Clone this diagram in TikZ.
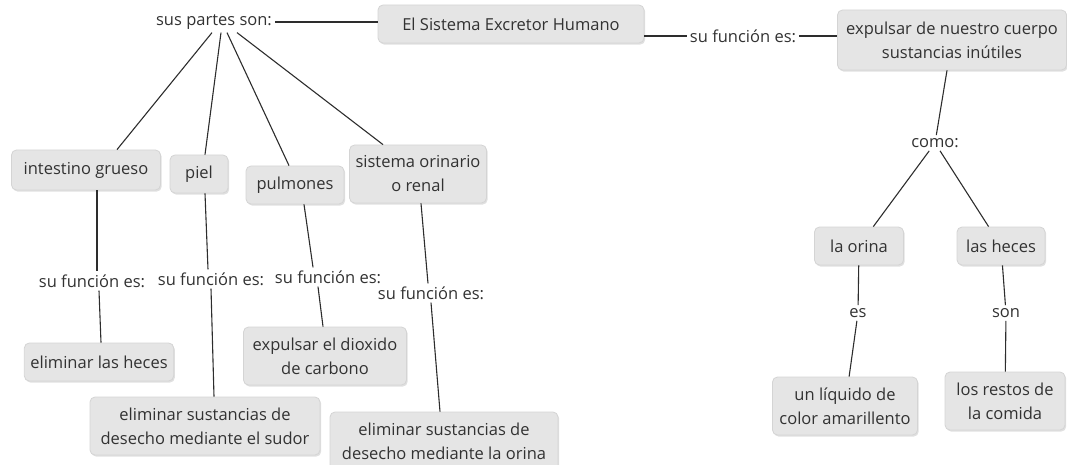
\documentclass[tikz,border=0pt]{standalone}
\usepackage{fontspec}
\setmainfont{Open Sans}
\usetikzlibrary{positioning,shadows}
\definecolor{CMfill}{RGB}{229,229,229}
\definecolor{CMedge}{RGB}{212,212,212}
\definecolor{CMtext}{RGB}{50,50,50}
\definecolor{CMline}{RGB}{45,45,45}
\tikzset{
  concept/.style={rounded corners=5pt,fill=CMfill,draw=CMedge,line width=0.8pt,
                  text=CMtext,align=center,inner xsep=6pt,inner ysep=3pt,
                  font=\fontsize{16.5}{24}\selectfont,
                  drop shadow={shadow xshift=1.2pt,shadow yshift=-1.6pt,opacity=0.35,fill=gray!70}},
  linkword/.style={text=CMtext,inner sep=3pt,font=\fontsize{16.5}{24}\selectfont},
  cl/.style={draw=CMline,line width=1.1pt},
}
\begin{document}
\begin{tikzpicture}[x=1pt,y=-1pt]
    \useasboundingbox (0,0) rectangle (1067,465);
    % main concept and its two branches
    \node[concept,minimum width=266,minimum height=38] (title) at (511,24) {El Sistema Excretor Humano};
    \node[linkword] (partes) at (214,22) {sus partes son:};
    \node[linkword] (funcA) at (743,36) {su función es:};
    \node[concept,minimum width=229,minimum height=60] (cuerpo) at (952,40) {expulsar de nuestro cuerpo\\sustancias inútiles};
    % right side
    \node[linkword] (como) at (935,143) {como:};
    \node[concept,minimum width=89,minimum height=38] (orina) at (859,246) {la orina};
    \node[concept,minimum width=88,minimum height=38] (heces) at (1001,246) {las heces};
    \node[linkword] (es) at (858,313) {es};
    \node[linkword] (son) at (1006,313) {son};
    \node[concept,minimum width=145,minimum height=58] (liquido) at (845,406) {un líquido de\\color amarillento};
    \node[concept,minimum width=120,minimum height=58] (restos) at (1005,401) {los restos de\\la comida};
    % left side: the parts
    \node[concept,minimum width=149,minimum height=40] (intestino) at (86,170) {intestino grueso};
    \node[concept,minimum width=58,minimum height=38] (piel) at (199,174) {piel};
    \node[concept,minimum width=98,minimum height=38] (pulmones) at (295,185) {pulmones};
    \node[concept,minimum width=136,minimum height=58] (sistema) at (418,174) {sistema orinario\\o renal};
    \node[linkword] (funcB) at (92,281) {su función es:};
    \node[linkword] (funcC) at (211,279) {su función es:};
    \node[linkword] (funcD) at (328,277) {su función es:};
    \node[linkword] (funcE) at (431,293) {su función es:};
    \node[concept,minimum width=148,minimum height=38] (hecesB) at (99,362) {eliminar las heces};
    \node[concept,minimum width=230,minimum height=58] (sudor) at (205,426) {eliminar sustancias de\\desecho mediante el sudor};
    \node[concept,minimum width=163,minimum height=58] (dioxido) at (325,356) {expulsar el dioxido\\de carbono};
    \node[concept,minimum width=228,minimum height=58] (orinaB) at (444,441) {eliminar sustancias de\\desecho mediante la orina};
    % connectors
    \draw[cl] (partes.east) -- (partes.east -| title.west);
    \draw[cl] ([yshift=-12pt]title.east) -- (funcA.west);
    \draw[cl] (funcA.east) -- (funcA.east -| cuerpo.west);
    \draw[cl] (cuerpo) -- (como);
    \draw[cl] (como) -- (orina);
    \draw[cl] (como) -- (heces);
    \draw[cl] (orina) -- (es);
    \draw[cl] (es) -- (liquido);
    \draw[cl] (heces) -- (son);
    \draw[cl] (son) -- (restos);
    \draw[cl] ([xshift=-2pt]partes.south) -- ([xshift=31pt]intestino.north);
    \draw[cl] ([xshift=7pt]partes.south) -- ([xshift=6pt]piel.north);
    \draw[cl] ([xshift=13pt]partes.south) -- ([xshift=-6pt]pulmones.north);
    \draw[cl] ([xshift=23pt]partes.south) -- ([xshift=-35pt]sistema.north);
    \draw[cl] ([xshift=11pt]intestino.south) -- ([xshift=5pt]funcB.north);
    \draw[cl] ([xshift=7pt]funcB.south) -- ([xshift=2pt]hecesB.north);
    \draw[cl] ([xshift=6pt]piel.south) -- ([xshift=-3pt]funcC.north);
    \draw[cl] (funcC.south) -- ([xshift=9pt]sudor.north);
    \draw[cl] ([xshift=9pt]pulmones.south) -- ([xshift=-15pt]funcD.north);
    \draw[cl] ([xshift=-10pt]funcD.south) -- ([xshift=-2pt]dioxido.north);
    \draw[cl] ([xshift=3pt]sistema.south) -- ([xshift=-3pt]funcE.north);
    \draw[cl] (funcE.south) -- ([xshift=-4pt]orinaB.north);
\end{tikzpicture}
\end{document}
